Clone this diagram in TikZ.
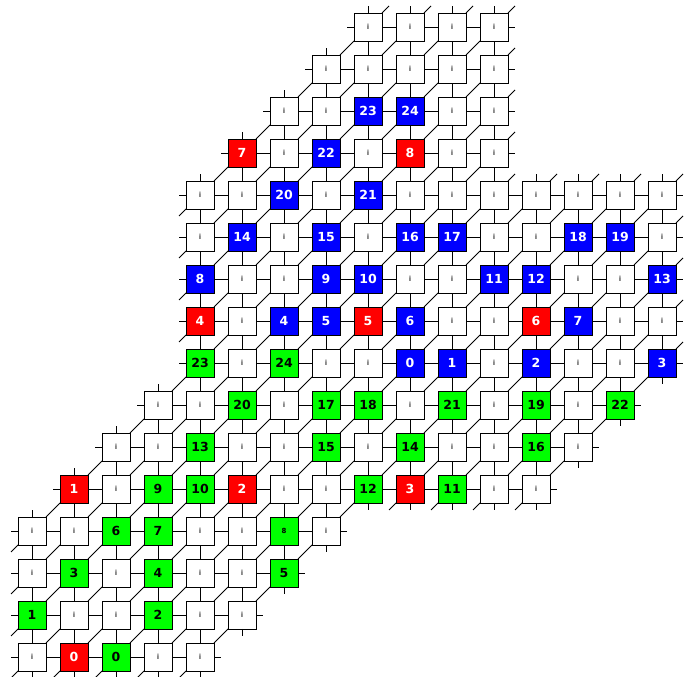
\documentclass[tikz,border=0pt]{standalone}
\usepackage{fontspec}
\setsansfont{DejaVu Sans}
\usetikzlibrary{shadows}
\tikzset{
  cell/.style={rectangle,draw,line width=0.8pt,minimum size=28pt,inner sep=0pt,outer sep=0pt,
    font=\sffamily\bfseries\fontsize{12.5}{12.5}\selectfont,
    drop shadow={shadow xshift=0.9pt,shadow yshift=-0.9pt,fill=gray!70,opacity=1}},
  celli/.style={fill=white,text=black!70,font=\sffamily\bfseries\fontsize{7}{7}\selectfont},
  cellb/.style={fill=blue,text=white},
  cellr/.style={fill=red,text=white},
  cellg/.style={fill=green,text=black},
  cellsm/.style={fill=green,text=black,font=\sffamily\bfseries\fontsize{7}{7}\selectfont},
  link/.style={line width=0.8pt}
}
% row / first column / cells (kind/text)
\newcommand{\gridrows}{%
  15/8/{i/i,i/i,i/i,i/i},
  14/7/{i/i,i/i,i/i,i/i,i/i},
  13/6/{i/i,i/i,b/23,b/24,i/i,i/i},
  12/5/{r/7,i/i,b/22,i/i,r/8,i/i,i/i},
  11/4/{i/i,i/i,b/20,i/i,b/21,i/i,i/i,i/i,i/i,i/i,i/i,i/i},
  10/4/{i/i,b/14,i/i,b/15,i/i,b/16,b/17,i/i,i/i,b/18,b/19,i/i},
  9/4/{b/8,i/i,i/i,b/9,b/10,i/i,i/i,b/11,b/12,i/i,i/i,b/13},
  8/4/{r/4,i/i,b/4,b/5,r/5,b/6,i/i,i/i,r/6,b/7,i/i,i/i},
  7/4/{g/23,i/i,g/24,i/i,i/i,b/0,b/1,i/i,b/2,i/i,i/i,b/3},
  6/3/{i/i,i/i,g/20,i/i,g/17,g/18,i/i,g/21,i/i,g/19,i/i,g/22},
  5/2/{i/i,i/i,g/13,i/i,i/i,g/15,i/i,g/14,i/i,i/i,g/16,i/i},
  4/1/{r/1,i/i,g/9,g/10,r/2,i/i,i/i,g/12,r/3,g/11,i/i,i/i},
  3/0/{i/i,i/i,g/6,g/7,i/i,i/i,sm/8,i/i},
  2/0/{i/i,g/3,i/i,g/4,i/i,i/i,g/5},
  1/0/{g/1,i/i,i/i,g/2,i/i,i/i},
  0/0/{i/i,r/0,g/0,i/i,i/i}%
}
% link to a neighbour if it exists, otherwise a short stub
\newcommand{\linkorstub}[5]{%
  \ifcsname pgf@sh@ns@#2\endcsname
    \draw[link] (#1.#3) -- (#2.#4);
  \else
    \draw[link] (#1.#3) -- ++#5;
  \fi}
\newcommand{\stubonly}[4]{%
  \ifcsname pgf@sh@ns@#2\endcsname\else
    \draw[link] (#1.#3) -- ++#4;
  \fi}
\begin{document}
\begin{tikzpicture}
\useasboundingbox (0,0) rectangle (691pt,677pt);
% cells
\foreach \r/\cs/\cells in \gridrows {
  \foreach \kind/\txt [count=\k from 0] in \cells {
    \pgfmathtruncatemacro\c{\cs+\k}
    \node[cell,cell\kind] (n-\c-\r) at (32pt+42pt*\c, 20pt+42pt*\r) {\txt};
  }
}
% links
\foreach \r/\cs/\cells in \gridrows {
  \foreach \kind/\txt [count=\k from 0] in \cells {
    \pgfmathtruncatemacro\c{\cs+\k}
    \pgfmathtruncatemacro\cnext{\c+1}
    \pgfmathtruncatemacro\cprev{\c-1}
    \pgfmathtruncatemacro\rnext{\r+1}
    \pgfmathtruncatemacro\rprev{\r-1}
    \linkorstub{n-\c-\r}{n-\cnext-\r}{east}{west}{(7pt,0)}
    \linkorstub{n-\c-\r}{n-\c-\rnext}{north}{south}{(0,7pt)}
    \linkorstub{n-\c-\r}{n-\cnext-\rnext}{north east}{south west}{(7pt,7pt)}
    \stubonly{n-\c-\r}{n-\cprev-\r}{west}{(-7pt,0)}
    \stubonly{n-\c-\r}{n-\c-\rprev}{south}{(0,-7pt)}
    \stubonly{n-\c-\r}{n-\cprev-\rprev}{south west}{(-7pt,-7pt)}
  }
}
\end{tikzpicture}
\end{document}
